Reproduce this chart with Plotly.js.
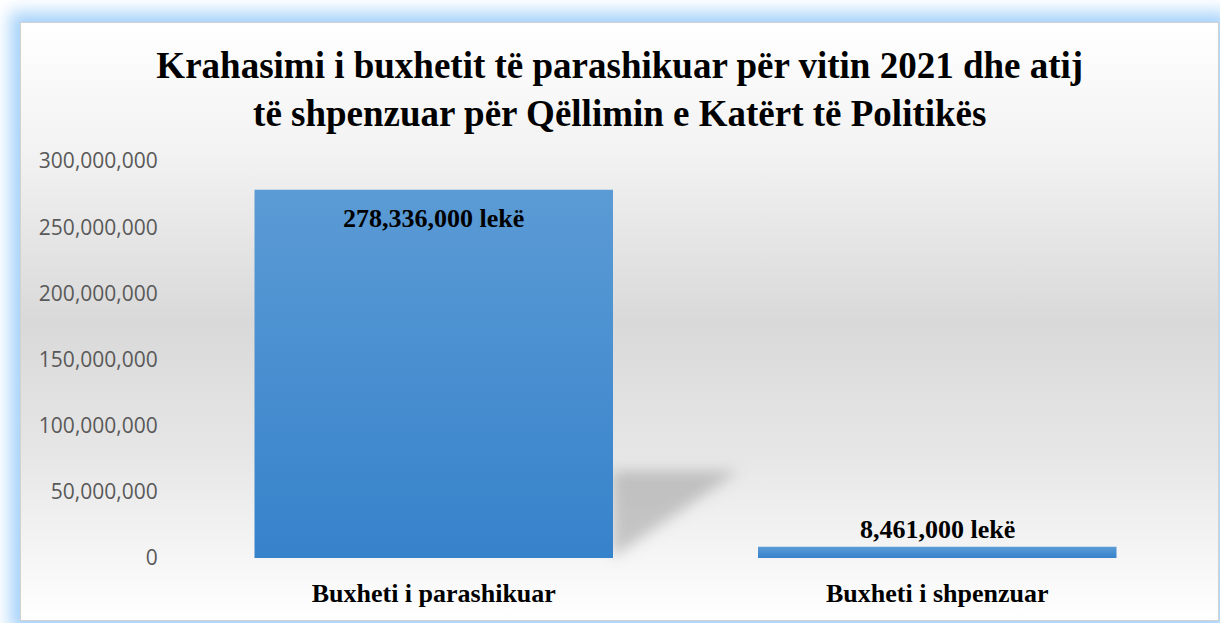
<!DOCTYPE html>
<html>
<head>
<meta charset="utf-8">
<script src="https://cdn.plot.ly/plotly-3.0.1.min.js"></script>
<style>
  html, body { margin: 0; padding: 0; background: #ffffff; width: 1220px; height: 623px; overflow: hidden; }
  #frame { position: absolute; left: 0; top: 0; width: 1220px; height: 623px; overflow: hidden; background: #ffffff; }
  #panel {
    position: absolute; left: 20px; top: 22px; width: 1197px; height: 597px;
    border: 1px solid #d2d2d2;
    background: linear-gradient(to bottom, #ffffff 0%, #f2f2f2 22%, #d9d9d9 50%, #e6e6e6 72%, #ffffff 100%);
    box-shadow: 0 0 16px 10px #a6d2fa;
  }
  #chart { position: absolute; left: 0; top: 0; width: 1220px; height: 623px; }
</style>
</head>
<body>
<div id="frame">
  <div id="panel"></div>
  <div id="chart"></div>
</div>
<script>
const categories = ["Buxheti i parashikuar", "Buxheti i shpenzuar"];
const values = [278336000, 8461000];
const labelSuffix = " lekë";
const titleLines = ["Krahasimi i buxhetit të parashikuar për vitin 2021 dhe atij", "të shpenzuar për Qëllimin e Katërt të Politikës"];
const tickValues = [0, 50000000, 100000000, 150000000, 200000000, 250000000, 300000000];

const fmt = v => v.toLocaleString('en-US');
const serif = "'Liberation Serif', 'Times New Roman', serif";

const trace = {
  type: 'bar',
  x: categories,
  y: values,
  marker: { color: '#4a8fd2', line: { width: 0 } },
  hoverinfo: 'none'
};

const annotations = [
  { x: categories[0], y: values[0], xref: 'x', yref: 'y', text: '<b>' + fmt(values[0]) + labelSuffix + '</b>',
    showarrow: false, yanchor: 'middle', yshift: -29, font: { family: serif, size: 26, color: '#000000' } },
  { x: categories[1], y: values[1], xref: 'x', yref: 'y', text: '<b>' + fmt(values[1]) + labelSuffix + '</b>',
    showarrow: false, yanchor: 'middle', yshift: 17, font: { family: serif, size: 26, color: '#000000' } }
];

const layout = {
  width: 1220, height: 623,
  paper_bgcolor: 'rgba(0,0,0,0)',
  plot_bgcolor: 'rgba(0,0,0,0)',
  margin: { l: 182, r: 31, t: 161, b: 65 },
  showlegend: false,
  bargap: 0.288,
  title: {
    text: '<b>' + titleLines.join('<br>') + '</b>',
    font: { family: serif, size: 37, color: '#000000' },
    x: 0.508, xref: 'container', xanchor: 'center',
    y: 1 - 78 / 623, yref: 'container', yanchor: 'top'
  },
  xaxis: {
    type: 'category',
    showgrid: false, zeroline: false, showline: false,
    ticks: 'outside', ticklen: 12, tickcolor: 'rgba(0,0,0,0)',
    tickfont: { family: serif, size: 26, color: '#000000' },
    tickprefix: '<b>', ticksuffix: '</b>'
  },
  yaxis: {
    range: [0, 300000000],
    tickvals: tickValues,
    ticktext: tickValues.map(fmt),
    showgrid: false, zeroline: false, showline: false,
    ticks: 'outside', ticklen: 19, tickcolor: 'rgba(0,0,0,0)',
    tickfont: { family: "'Open Sans', 'Noto Sans', sans-serif", size: 21, color: '#595959' }
  },
  shapes: [
    { type: 'path', xref: 'paper', yref: 'paper', layer: 'below',
      path: 'M 0.427 0.0 L 0.427 0.22 L 0.553 0.22 Z',
      fillcolor: 'rgba(120,120,120,0.38)', line: { width: 0 } }
  ],
  annotations: annotations
};

Plotly.newPlot('chart', [trace], layout, { staticPlot: true, displayModeBar: false }).then(gd => {
  const svg = gd.querySelector('svg.main-svg');
  const ns = 'http://www.w3.org/2000/svg';
  let defs = svg.querySelector('defs');
  if (!defs) { defs = document.createElementNS(ns, 'defs'); svg.insertBefore(defs, svg.firstChild); }
  const grad = document.createElementNS(ns, 'linearGradient');
  grad.setAttribute('id', 'barGrad');
  grad.setAttribute('x1', '0'); grad.setAttribute('y1', '0');
  grad.setAttribute('x2', '0'); grad.setAttribute('y2', '1');
  [['0%', '#5b9bd5'], ['100%', '#3682cb']].forEach(([o, c]) => {
    const s = document.createElementNS(ns, 'stop');
    s.setAttribute('offset', o); s.setAttribute('stop-color', c);
    grad.appendChild(s);
  });
  defs.appendChild(grad);
  const filt = document.createElementNS(ns, 'filter');
  filt.setAttribute('id', 'shadowBlur');
  filt.setAttribute('x', '-20%'); filt.setAttribute('y', '-20%');
  filt.setAttribute('width', '140%'); filt.setAttribute('height', '140%');
  const blur = document.createElementNS(ns, 'feGaussianBlur');
  blur.setAttribute('stdDeviation', '7');
  filt.appendChild(blur);
  defs.appendChild(filt);
  gd.querySelectorAll('.bars .point path').forEach(p => { p.style.fill = 'url(#barGrad)'; });
  gd.querySelectorAll('.shapelayer path').forEach(p => { p.setAttribute('filter', 'url(#shadowBlur)'); });
});
</script>
</body>
</html>
